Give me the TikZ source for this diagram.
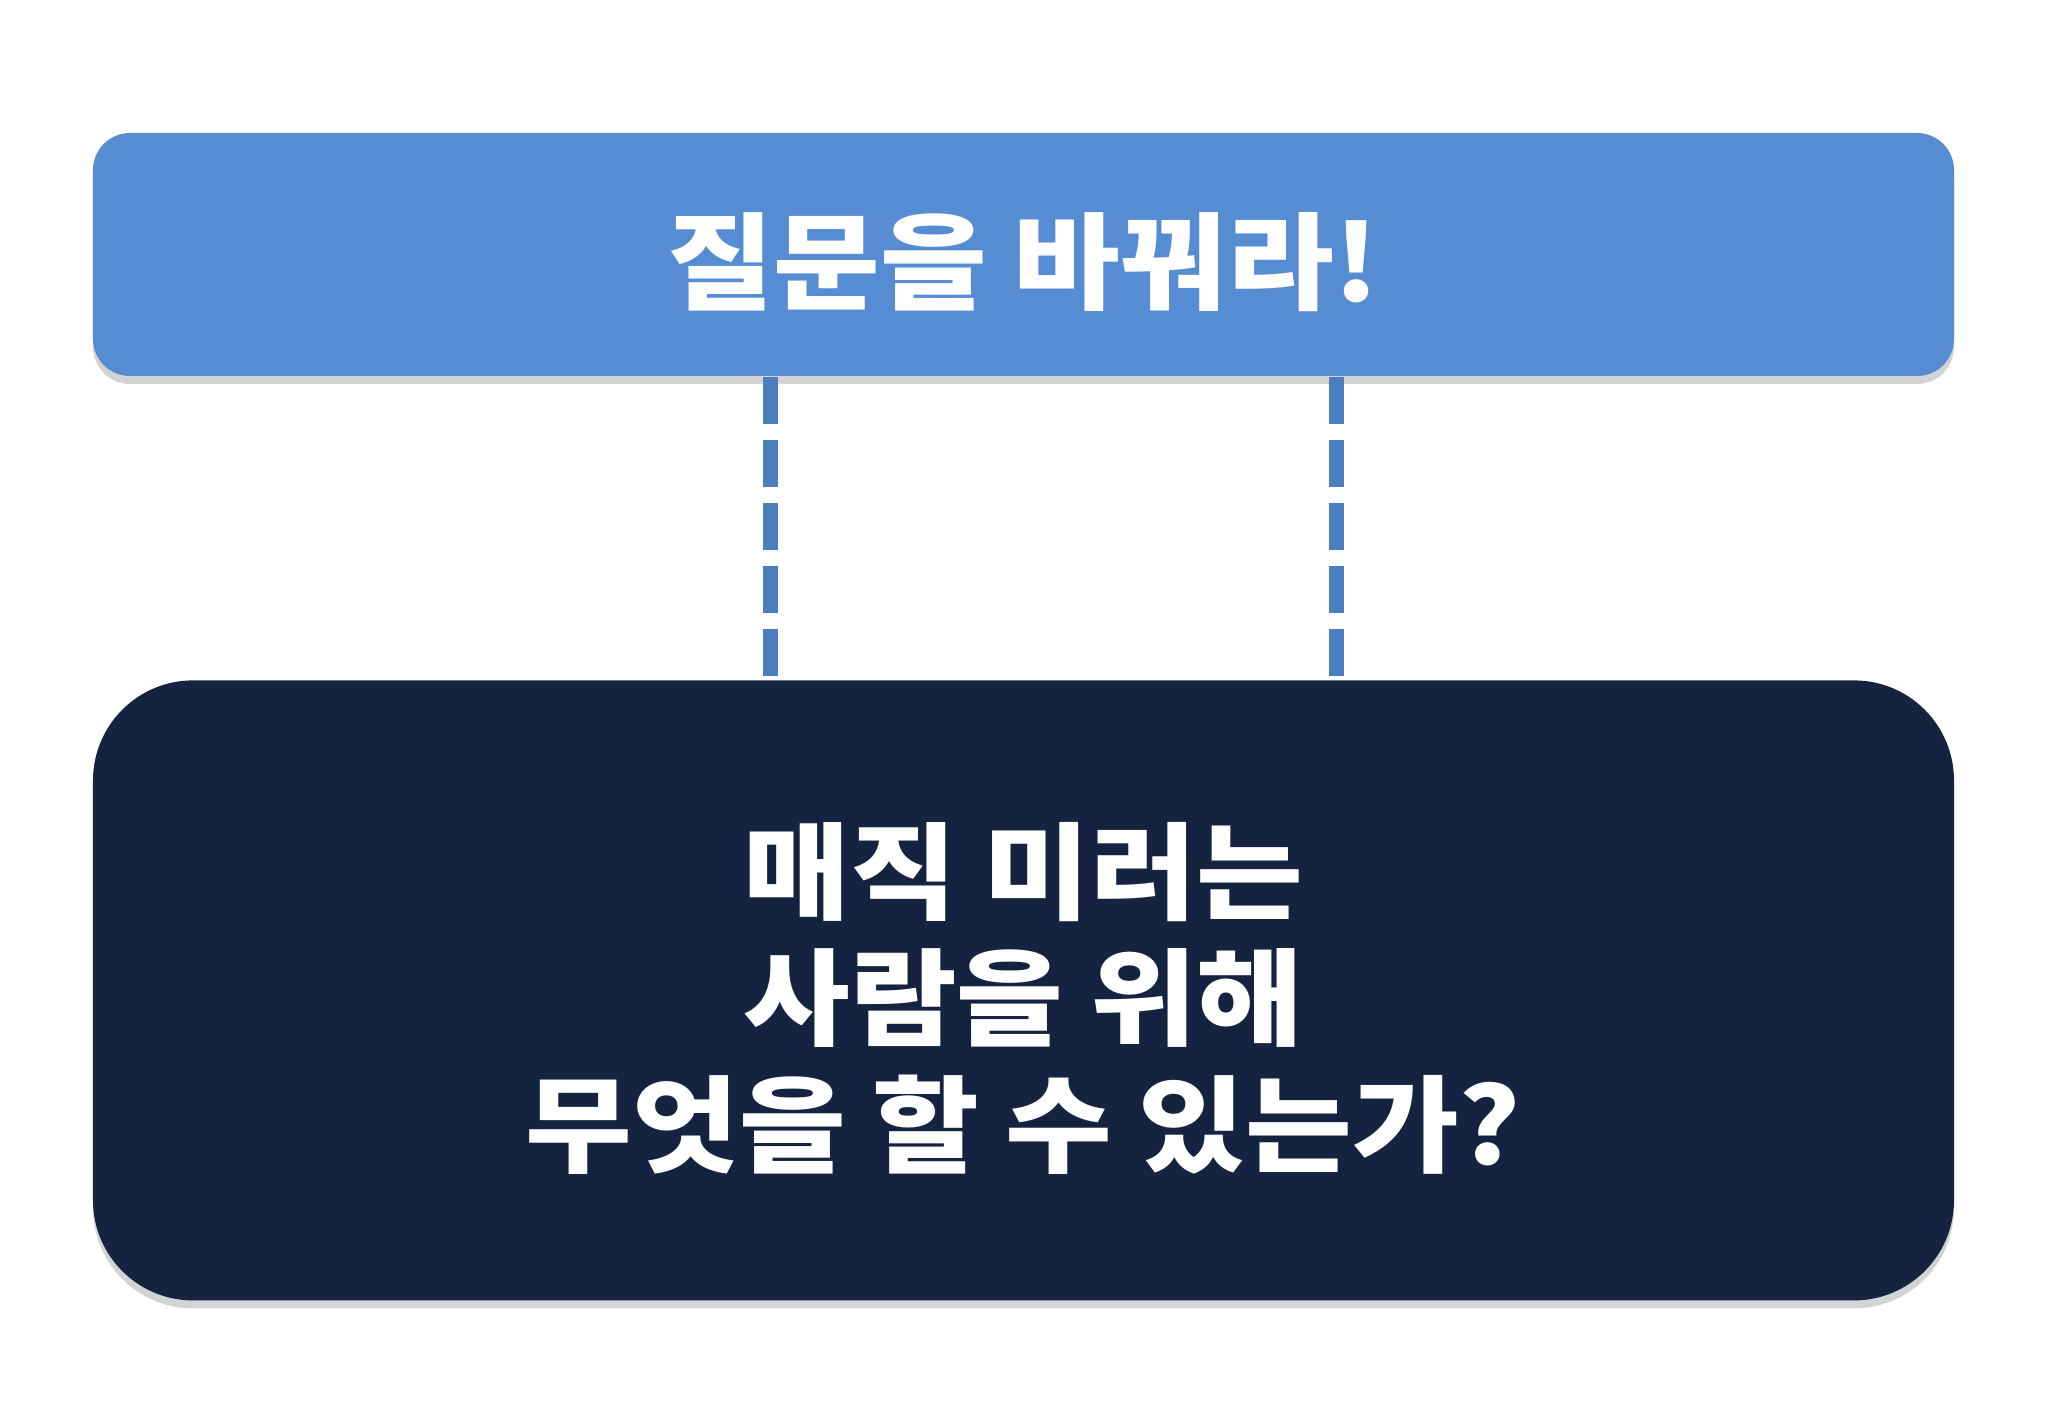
\documentclass[tikz,border=0pt]{standalone}
\usepackage{fontspec}
\setmainfont{Noto Sans CJK KR}[FakeStretch=1.1]
\usepackage{xcolor}
\usepackage{tikz}
\usetikzlibrary{positioning}
\usetikzlibrary{calc}
\usetikzlibrary{shadows}
\definecolor{titleblue}{HTML}{558CD2}
\definecolor{dashblue}{HTML}{4A7EBF}
\definecolor{deepnavy}{HTML}{142440}
\newcommand{\lowerline}[1]{\raisebox{-0.8mm}[\height][\depth]{#1}}

\begin{document}
\begin{tikzpicture}[every node/.style={
            text=white,
            font=\fontsize{30}{36}\selectfont\bfseries,
            minimum width=18.61cm,
            inner sep=0pt,
            align=center,
            drop shadow={shadow xshift=0cm, shadow yshift=-0.08cm, opacity=0.35}},
            link/.style={dashblue, line width=1.5mm, dash pattern=on 4.7mm off 1.6mm}]
            \useasboundingbox (0,0) rectangle (20.48,-14.18);
            \node[fill=titleblue, rounded corners=3.7mm, minimum height=2.43cm] (title) at (10.235,-2.545) {\lowerline{질문을 바꿔라!}};
            \node[fill=deepnavy, rounded corners=10mm, minimum height=6.2cm, below=3.03cm of title] (question) {\lowerline{매직 미러는}\\\lowerline{사람을 위해}\\\lowerline{무엇을 할 수 있는가?}};
            \draw[link] ($(title.south west)!0.364!(title.south east)$) -- ($(question.north west)!0.364!(question.north east)$);
            \draw[link] ($(title.south west)!0.668!(title.south east)$) -- ($(question.north west)!0.668!(question.north east)$);
        \end{tikzpicture}
\end{document}
